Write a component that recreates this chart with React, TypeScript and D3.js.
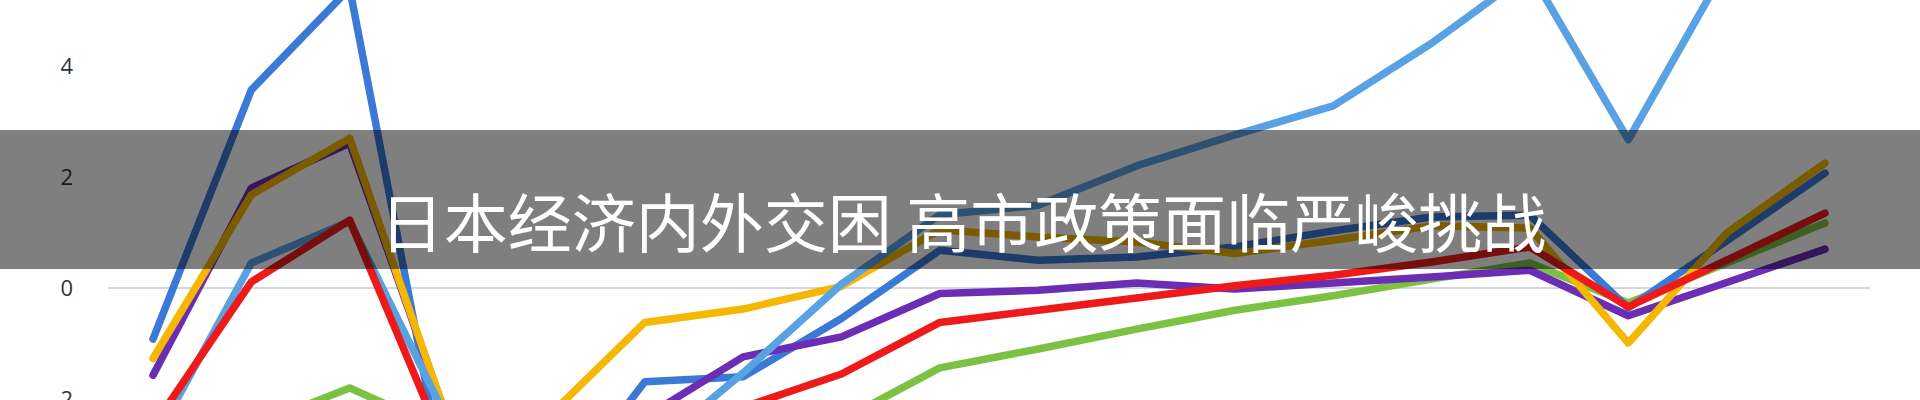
import * as d3 from "d3";
import React, { useEffect, useRef } from "react";

// 18 periods along the x axis (no labels visible in the crop)
const periods = d3.range(18);

const yTicks = [-2, 0, 2, 4];

// series values (values below -2 / above 5.2 are off-screen estimates)
const blueValues = [-0.92, 3.57, 5.4, -3.8, -4.0, -1.69, -1.6, -0.55, 0.68, 0.5, 0.56, 0.74, 1.03, 1.28, 1.31, -0.36, 0.85, 2.07];
const lightBlueValues = [-2.8, 0.45, 1.2, -2.4, -3.6, -3.0, -1.53, 0.07, 1.32, 1.49, 2.2, 2.76, 3.28, 4.41, 5.7, 2.67, 5.8, 6.3];
const yellowValues = [-1.27, 1.68, 2.7, -2.4, -2.35, -0.62, -0.38, 0.03, 1.05, 0.92, 0.83, 0.62, 0.86, 1.12, 1.08, -0.99, 0.99, 2.25];
const purpleValues = [-1.57, 1.8, 2.61, -2.4, -2.8, -2.33, -1.24, -0.88, -0.1, -0.04, 0.09, -0.02, 0.09, 0.2, 0.32, -0.5, 0.1, 0.7];
const redValues = [-2.5, 0.11, 1.22, -3.0, -3.2, -2.7, -2.15, -1.55, -0.62, -0.4, -0.18, 0.04, 0.23, 0.47, 0.74, -0.34, 0.5, 1.35];
const greenValues = [-3.0, -2.5, -1.8, -2.6, -2.9, -2.8, -2.6, -2.38, -1.44, -1.1, -0.74, -0.4, -0.14, 0.16, 0.45, -0.27, 0.45, 1.17];

const title = "日本经济内外交困 高市政策面临严峻挑战";

const App: React.FC = () => {
  const ref = useRef<SVGSVGElement | null>(null);

  useEffect(() => {
    if (!ref.current) return;
    document.body.style.margin = "0";

    d3.select(ref.current).selectAll("*").remove();

    const width = 1920;
    const height = 400;

    const svg = d3
      .select(ref.current)
      .attr("width", width)
      .attr("height", height)
      .style("display", "block")
      .style("background", "#ffffff");

    const x = d3
      .scalePoint<number>()
      .domain(periods)
      .range([108, 1870])
      .padding(0.4575);

    const y = d3.scaleLinear().domain([-2, 4]).range([399, 66]);

    // zero gridline
    svg
      .append("line")
      .attr("x1", 108)
      .attr("x2", 1870)
      .attr("y1", y(0))
      .attr("y2", y(0))
      .attr("stroke", "#d3d6e0")
      .attr("stroke-width", 2);

    // Y Axis
    const yAxis = svg
      .append("g")
      .attr("transform", "translate(80,0)")
      .call(
        d3
          .axisLeft(y)
          .tickValues(yTicks)
          .tickSize(0)
          .tickPadding(7)
          .tickFormat((d) => String(d))
      );
    yAxis.select(".domain").remove();
    yAxis
      .selectAll("text")
      .attr("fill", "#33323d")
      .style("font-family", "'Open Sans', sans-serif")
      .style("font-size", "22px");

    // drawing order follows which line sits on top where they cross
    const series = [
      { values: greenValues, color: "#7cc242" },
      { values: blueValues, color: "#3b79d6" },
      { values: purpleValues, color: "#6a2db4" },
      { values: yellowValues, color: "#f6b700" },
      { values: lightBlueValues, color: "#58a2e4" },
      { values: redValues, color: "#ee1a1a" },
    ];

    const line = d3
      .line<number>()
      .x((_, i) => x(periods[i]) as number)
      .y((d) => y(d));

    series.forEach((s) => {
      svg
        .append("path")
        .datum(s.values)
        .attr("fill", "none")
        .attr("stroke", s.color)
        .attr("stroke-width", 7.5)
        .attr("stroke-linejoin", "round")
        .attr("stroke-linecap", "round")
        .attr("d", line);
    });

    // caption banner over the chart
    svg
      .append("rect")
      .attr("x", 0)
      .attr("y", 130)
      .attr("width", width)
      .attr("height", 139)
      .attr("fill", "rgba(0,0,0,0.5)");

    svg
      .append("text")
      .attr("x", 963)
      .attr("y", 219)
      .attr("text-anchor", "middle")
      .attr("dominant-baseline", "central")
      .attr("fill", "#ffffff")
      .style("font-family", "'Noto Sans CJK SC', sans-serif")
      .style("font-size", "64px")
      .text(title);
  }, []);

  return <svg ref={ref}></svg>;
};

export default App;
